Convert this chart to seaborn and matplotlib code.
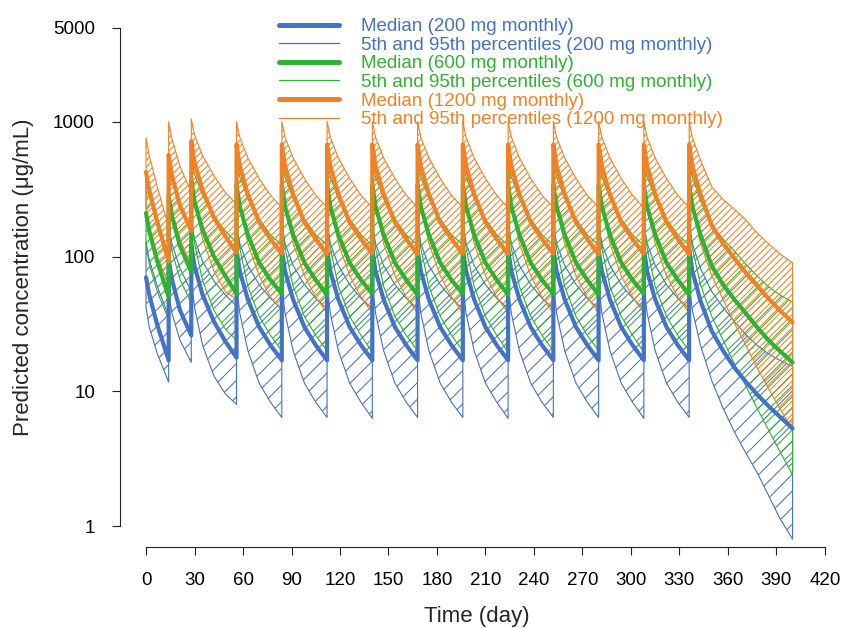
import matplotlib
matplotlib.use("Agg")
import matplotlib.pyplot as plt
import numpy as np
import pandas as pd
import seaborn as sns
from matplotlib.lines import Line2D
from matplotlib.ticker import NullLocator, FixedLocator, FixedFormatter

# ---------------- data ----------------
# sampling days, one list per dosing interval (last = washout tail)
time_segments = [
    [0, 2, 7, 14],
    [14, 16, 21, 28],
    [28, 30, 35, 42, 49, 56],
    [56, 58, 63, 70, 77, 84],
    [84, 86, 91, 98, 105, 112],
    [112, 114, 119, 126, 133, 140],
    [140, 142, 147, 154, 161, 168],
    [168, 170, 175, 182, 189, 196],
    [196, 198, 203, 210, 217, 224],
    [224, 226, 231, 238, 245, 252],
    [252, 254, 259, 266, 273, 280],
    [280, 282, 287, 294, 301, 308],
    [308, 310, 315, 322, 329, 336],
    [336, 338, 343, 350, 357, 364, 371, 378, 385, 392, 400],
]

# 200 mg monthly
median_200 = [
    [70, 52, 31, 17],
    [95, 68, 40, 26],
    [122, 85, 52, 33, 23.5, 17.8],
    [112, 78, 48, 30, 22, 17],
    [113, 78, 48, 30, 22, 17],
    [112, 78, 48, 30, 22, 17],
    [113, 78, 48, 30, 22, 17],
    [112, 78, 48, 30, 22, 17],
    [113, 78, 48, 30, 22, 17],
    [112, 78, 48, 30, 22, 17],
    [113, 78, 48, 30, 22, 17],
    [112, 78, 48, 30, 22, 17],
    [113, 78, 48, 30, 22, 17],
    [112, 78, 47, 28, 20, 15, 11.8, 9.5, 7.8, 6.5, 5.3],
]
p95_200 = [
    [127, 95, 60, 36],
    [170, 125, 82, 55],
    [185, 135, 92, 66, 52, 43],
    [175, 125, 86, 62, 49, 41],
    [175, 125, 86, 62, 49, 41],
    [176, 125, 86, 62, 49, 41],
    [175, 125, 86, 62, 49, 41],
    [175, 125, 86, 62, 49, 41],
    [176, 125, 86, 62, 49, 41],
    [175, 125, 86, 62, 49, 41],
    [175, 125, 86, 62, 49, 41],
    [176, 125, 86, 62, 49, 41],
    [175, 125, 86, 62, 49, 41],
    [175, 125, 82, 55, 42, 33, 26.5, 22, 19, 17, 15.3],
]
p5_200 = [
    [42, 30, 19, 11.7],
    [55, 38, 24, 16.4],
    [70, 42, 22, 13, 9.6, 8.0],
    [62, 38, 20, 11.5, 8.3, 6.4],
    [62, 38, 20, 11.5, 8.3, 6.4],
    [62, 38, 20, 11.5, 8.3, 6.3],
    [62, 38, 20, 11.5, 8.3, 6.4],
    [62, 38, 20, 11.5, 8.3, 6.4],
    [62, 38, 20, 11.5, 8.3, 6.3],
    [62, 38, 20, 11.5, 8.3, 6.4],
    [62, 38, 20, 11.5, 8.3, 6.4],
    [62, 38, 20, 11.5, 8.3, 6.3],
    [62, 38, 20, 11.5, 8.3, 6.4],
    [62, 40, 22, 12, 7.5, 5.0, 3.5, 2.5, 1.7, 1.15, 0.8],
]

# 600 mg monthly
median_600 = [
    [210, 155, 92, 50],
    [285, 200, 120, 77],
    [365, 255, 158, 100, 72, 53],
    [340, 235, 145, 90, 67, 53],
    [340, 235, 145, 90, 67, 52],
    [340, 235, 145, 90, 67, 53],
    [340, 235, 145, 90, 67, 52],
    [340, 235, 145, 90, 67, 53],
    [340, 235, 145, 90, 67, 52],
    [340, 235, 145, 90, 67, 53],
    [340, 235, 145, 90, 67, 52],
    [340, 235, 145, 90, 67, 53],
    [340, 235, 145, 90, 67, 52],
    [340, 235, 145, 85, 62, 48, 38, 30, 24, 20, 16.4],
]
p95_600 = [
    [380, 285, 175, 105],
    [500, 370, 240, 160],
    [540, 410, 285, 200, 155, 127],
    [520, 390, 270, 190, 145, 122],
    [520, 390, 270, 190, 145, 122],
    [520, 390, 270, 190, 145, 121],
    [520, 390, 270, 190, 145, 122],
    [520, 390, 270, 190, 145, 122],
    [520, 390, 270, 190, 145, 121],
    [520, 390, 270, 190, 145, 122],
    [520, 390, 270, 190, 145, 122],
    [520, 390, 270, 190, 145, 121],
    [520, 390, 270, 190, 145, 122],
    [520, 390, 260, 170, 135, 110, 88, 72, 60, 52, 46],
]
p5_600 = [
    [125, 88, 55, 34],
    [160, 110, 68, 45],
    [205, 125, 66, 40, 29, 24],
    [190, 115, 60, 36, 26, 20],
    [190, 115, 60, 36, 26, 20],
    [190, 115, 60, 36, 26, 19.5],
    [190, 115, 60, 36, 26, 20],
    [190, 115, 60, 36, 26, 20],
    [190, 115, 60, 36, 26, 19.5],
    [190, 115, 60, 36, 26, 20],
    [190, 115, 60, 36, 26, 20],
    [190, 115, 60, 36, 26, 19.5],
    [190, 115, 60, 36, 26, 20],
    [190, 115, 62, 36, 24, 16, 11, 7.5, 5.2, 3.6, 2.4],
]

# 1200 mg monthly
median_1200 = [
    [425, 310, 180, 92],
    [570, 400, 240, 155],
    [720, 500, 310, 195, 142, 107],
    [680, 470, 290, 180, 135, 105],
    [680, 470, 290, 180, 135, 104],
    [680, 470, 290, 180, 135, 105],
    [680, 470, 290, 180, 135, 104],
    [680, 470, 290, 180, 135, 105],
    [680, 470, 290, 180, 135, 104],
    [680, 470, 290, 180, 135, 105],
    [680, 470, 290, 180, 135, 104],
    [680, 470, 290, 180, 135, 105],
    [680, 470, 290, 180, 135, 104],
    [680, 470, 290, 170, 125, 97, 76, 61, 49, 40, 32.5],
]
p95_1200 = [
    [760, 560, 330, 165],
    [1000, 750, 470, 300],
    [1050, 800, 560, 400, 300, 245],
    [1000, 770, 540, 380, 285, 232],
    [1000, 770, 540, 380, 285, 232],
    [1010, 770, 540, 380, 285, 230],
    [1000, 770, 540, 380, 285, 232],
    [1000, 770, 540, 380, 285, 232],
    [1010, 770, 540, 380, 285, 230],
    [1000, 770, 540, 380, 285, 232],
    [1000, 770, 540, 380, 285, 232],
    [1010, 770, 540, 380, 285, 230],
    [1000, 770, 540, 380, 285, 232],
    [1000, 770, 520, 330, 265, 225, 188, 150, 125, 105, 90],
]
p5_1200 = [
    [240, 165, 100, 62],
    [320, 220, 135, 85],
    [420, 255, 135, 78, 55, 48],
    [400, 240, 125, 72, 50, 40],
    [400, 240, 125, 72, 50, 38],
    [400, 240, 125, 72, 50, 38],
    [400, 240, 125, 72, 50, 38],
    [400, 240, 125, 72, 50, 38],
    [400, 240, 125, 72, 50, 38],
    [400, 240, 125, 72, 50, 38],
    [400, 240, 125, 72, 50, 38],
    [400, 240, 125, 72, 50, 38],
    [400, 240, 125, 72, 50, 38],
    [400, 240, 125, 72, 48, 32, 22, 15, 10.5, 7.5, 5.2],
]

dose_labels = ["200 mg monthly", "600 mg monthly", "1200 mg monthly"]
x_ticks = [0, 30, 60, 90, 120, 150, 180, 210, 240, 270, 300, 330, 360, 390, 420]
y_ticks = [1, 10, 100, 1000, 5000]
y_tick_labels = ["1", "10", "100", "1000", "5000"]

# ---------------- styling ----------------
colors = {"200 mg monthly": "#4472C4",
          "600 mg monthly": "#2DB232",
          "1200 mg monthly": "#F28125"}
hatches = {"200 mg monthly": "//",
           "600 mg monthly": "///",
           "1200 mg monthly": "/////"}

sns.set_theme(style="ticks")
plt.rcParams["font.family"] = ["Liberation Sans", "DejaVu Sans"]
plt.rcParams["hatch.linewidth"] = 0.75


def flat(segs):
    return [v for s in segs for v in s]


days = flat(time_segments)
series = {
    "200 mg monthly": (median_200, p5_200, p95_200),
    "600 mg monthly": (median_600, p5_600, p95_600),
    "1200 mg monthly": (median_1200, p5_1200, p95_1200),
}

rows = []
for dose in dose_labels:
    med, lo, hi = series[dose]
    for i, (d, m, l, h) in enumerate(zip(days, flat(med), flat(lo), flat(hi))):
        rows.append({"order": i, "day": d, "dose": dose,
                     "median": m, "p5": l, "p95": h})
df = pd.DataFrame(rows)

fig = plt.figure(figsize=(8.41, 6.28), dpi=100)
ax = fig.add_axes([120 / 841, 81 / 628, 713 / 841, 539.3 / 628])

# percentile bands (hatched)
for dose in dose_labels:
    sub = df[df["dose"] == dose].sort_values("order")
    ax.fill_between(sub["day"].to_numpy(), sub["p5"].to_numpy(), sub["p95"].to_numpy(),
                    facecolor="none", edgecolor=colors[dose], hatch=hatches[dose],
                    linewidth=0.8)

# medians
sns.lineplot(data=df, x="day", y="median", hue="dose", hue_order=dose_labels,
             palette=colors, sort=False, estimator=None, units="dose",
             linewidth=3.0, legend=False, ax=ax)

ax.set_yscale("log")
ax.set_xlim(-16.1, 425)
ax.set_ylim(10 ** -0.155, 10 ** 3.847)
ax.xaxis.set_major_locator(FixedLocator(x_ticks))
ax.set_xticklabels([str(v) for v in x_ticks])
ax.yaxis.set_major_locator(FixedLocator(y_ticks))
ax.yaxis.set_major_formatter(FixedFormatter(y_tick_labels))
ax.yaxis.set_minor_locator(NullLocator())
ax.xaxis.set_minor_locator(NullLocator())

for s in ["top", "right"]:
    ax.spines[s].set_visible(False)
ax.spines["left"].set_bounds(1, 5000)
ax.spines["bottom"].set_bounds(0, 420)
for s in ["left", "bottom"]:
    ax.spines[s].set_linewidth(0.8)
    ax.spines[s].set_color("#222222")
ax.tick_params(axis="both", direction="out", length=6, width=0.8,
               colors="#222222", labelcolor="black", labelsize=13.5, pad=12)

ax.set_xlabel("Time (day)", fontsize=16, labelpad=12)
ax.set_ylabel("Predicted concentration (μg/mL)", fontsize=16, labelpad=14)

# legend
handles, labels = [], []
for dose in dose_labels:
    handles.append(Line2D([], [], color=colors[dose], lw=3.6))
    labels.append(f"Median ({dose})")
    handles.append(Line2D([], [], color=colors[dose], lw=0.9))
    labels.append(f"5th and 95th percentiles ({dose})")
leg = fig.legend(handles, labels, loc="upper left",
                 bbox_to_anchor=(279 / 841, 1 - 18 / 628), frameon=False,
                 fontsize=13.5, handlelength=3.2, handletextpad=1.15,
                 labelspacing=0.08, borderpad=0, borderaxespad=0,
                 labelcolor="linecolor")

fig.savefig("out.png", dpi=100)
